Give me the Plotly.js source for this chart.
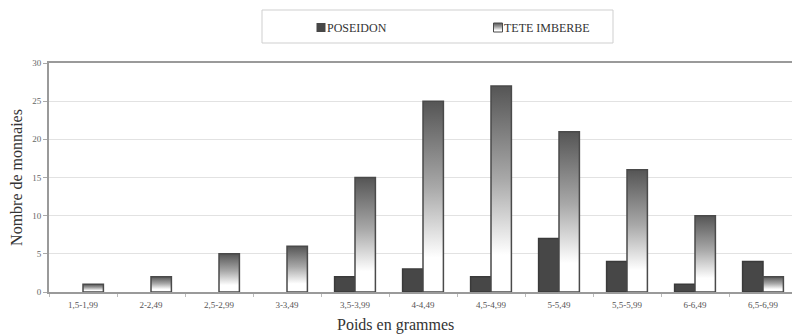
<!DOCTYPE html>
<html><head><meta charset="utf-8">
<script src="https://cdn.plot.ly/plotly-3.0.1.min.js"></script>
<style>html,body{margin:0;padding:0;background:#fff;overflow:hidden;width:792px;height:336px}#c{width:800px;height:336px}</style>
</head><body><div id="c"></div>
<script>
const categories = ['1,5-1,99','2-2,49','2,5-2,99','3-3,49','3,5-3,99','4-4,49','4,5-4,99','5-5,49','5,5-5,99','6-6,49','6,5-6,99'];
const poseidon = [0,0,0,0,2,3,2,7,4,1,4];
const teteImberbe = [1,2,5,6,15,25,27,21,16,10,2];
const seriesNames = ['POSEIDON','TETE IMBERBE'];
const yTicks = [0,5,10,15,20,25,30];

const serif = "'Liberation Serif', 'DejaVu Serif', serif";
const lw = v => v > 0 ? 1.5 : 0;
const traces = [
  {type:'bar', name:seriesNames[0], x:categories, y:poseidon,
   marker:{color:'#474747', line:{color:'#3a3a3a', width:poseidon.map(lw)}}},
  {type:'bar', name:seriesNames[1], x:categories, y:teteImberbe,
   marker:{color:'#999999', line:{color:'#4a4a4a', width:teteImberbe.map(lw)}}}
];
// plot area: x 49..797 (px), y 63..292
const L = 49, R = 797, T = 63, B = 292;
const px = x => (x - L) / (R - L);
const py = y => (B - y) / (B - T);
const layout = {
  width:800, height:336,
  margin:{l:L, r:800-R, t:T, b:336-B},
  paper_bgcolor:'#fff', plot_bgcolor:'#fff',
  barmode:'group', bargap:0.4, bargroupgap:0,
  showlegend:true,
  legend:{orientation:'h', x:px(287), xanchor:'left', y:py(13), yanchor:'top',
    borderwidth:0, bgcolor:'rgba(0,0,0,0)',
    font:{family:serif, size:12, color:'#333'}, entrywidth:132, itemwidth:30, traceorder:'normal'},
  shapes:[{type:'rect', xref:'paper', yref:'paper', x0:px(262), x1:px(613), y0:py(43), y1:py(10),
    line:{color:'#cfcfcf', width:1}, fillcolor:'rgba(0,0,0,0)', layer:'below'}],
  annotations:[{xref:'paper', yref:'paper', x:px(395), y:py(325), xanchor:'center', yanchor:'middle',
    text:'Poids en grammes', showarrow:false, font:{family:serif, size:16, color:'#333'}}],
  xaxis:{type:'category', showline:true, linecolor:'#9a9a9a', linewidth:2, mirror:true,
    ticks:'outside', ticklen:3, tickcolor:'#bbb', tickson:'boundaries', ticklabelstandoff:3,
    tickfont:{family:serif, size:9, color:'#555'},
    showgrid:false, zeroline:false},
  yaxis:{range:[0,30], tickvals:yTicks, showline:true, linecolor:'#9a9a9a', linewidth:2, mirror:true,
    ticks:'outside', ticklen:4, tickcolor:'#aaa',
    tickfont:{family:serif, size:9, color:'#666'},
    gridcolor:'#e2e2e2', gridwidth:1, zeroline:false,
    title:{text:'Nombre de monnaies', font:{family:serif, size:16, color:'#333'}, standoff:6}}
};
Plotly.newPlot('c', traces, layout, {displayModeBar:false, staticPlot:true}).then(function(gd){
  const svg = gd.querySelector('.main-svg');
  let defs = svg.querySelector('defs');
  const ns = 'http://www.w3.org/2000/svg';
  const lg = document.createElementNS(ns,'linearGradient');
  lg.setAttribute('id','teteGrad'); lg.setAttribute('x1','0'); lg.setAttribute('y1','0');
  lg.setAttribute('x2','0'); lg.setAttribute('y2','1');
  [['0','#555555'],['0.45','#a8a8a8'],['0.82','#ffffff'],['1','#ffffff']].forEach(function(s){
    const st = document.createElementNS(ns,'stop');
    st.setAttribute('offset', s[0]); st.setAttribute('stop-color', s[1]); lg.appendChild(st);
  });
  defs.appendChild(lg);
  const barTraces = gd.querySelectorAll('.barlayer .trace');
  if (barTraces[1]) barTraces[1].querySelectorAll('path').forEach(function(p){ p.style.fill='url(#teteGrad)'; });
  const legItems = gd.querySelectorAll('.legend .traces');
  legItems.forEach(function(it, i){
    it.querySelectorAll('.legendpoints path').forEach(function(p){
      p.setAttribute('d','M-4.5,-4.5H4.5V4.5H-4.5Z');
      p.style.strokeWidth = '1px';
      if (i === 1) p.style.fill = 'url(#teteGrad)';
    });
    const lp = it.querySelector('.legendpoints');
    if (lp) lp.setAttribute('transform','translate(14,0)');
  });
});
</script>
</body></html>
